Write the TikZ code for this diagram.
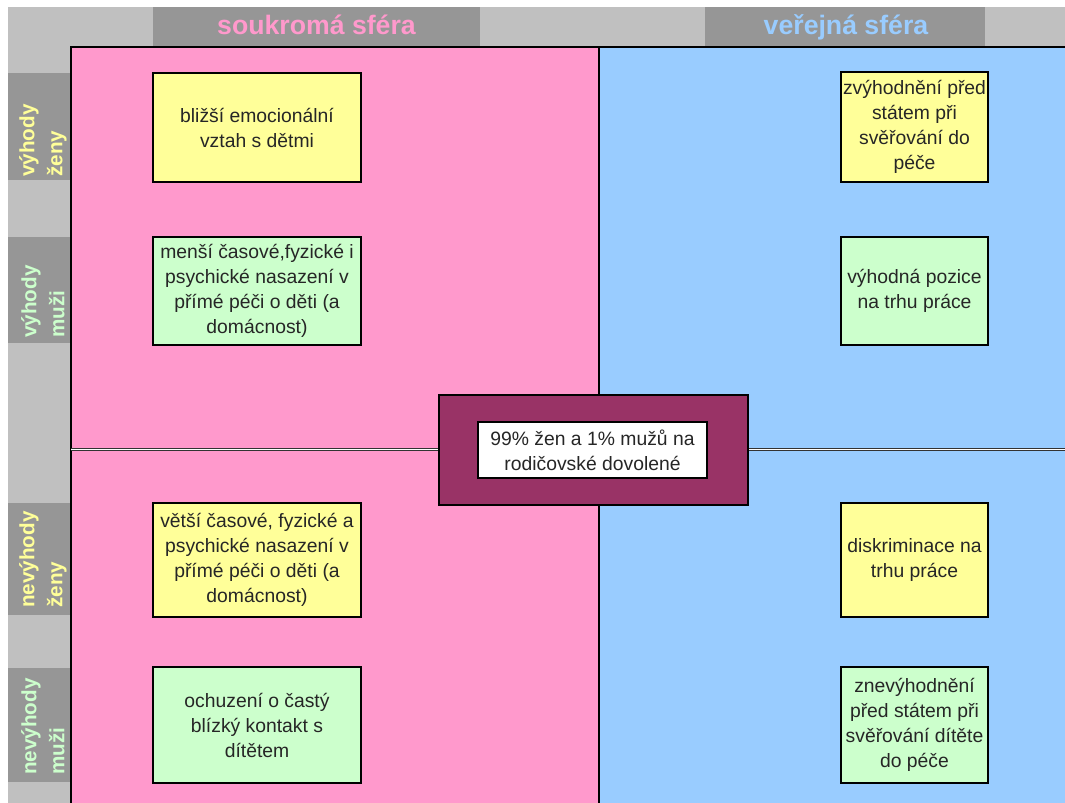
\documentclass[tikz,border=0pt]{standalone}
\usepackage{fontspec}
\setmainfont{Liberation Sans}
\usetikzlibrary{positioning}
\definecolor{rosa}{HTML}{FF99CC}
\definecolor{modra}{HTML}{99CCFF}
\definecolor{zluta}{HTML}{FFFF99}
\definecolor{zelena}{HTML}{CCFFCC}
\definecolor{fialova}{HTML}{993366}
\definecolor{seda}{HTML}{969696}
\definecolor{svetleseda}{HTML}{C0C0C0}
\newcommand{\sfera}[2]{\fontsize{20}{24}\selectfont\bfseries\textcolor{#1}{#2}}

\begin{document}
\begin{tikzpicture}[x=0.75pt,y=-0.75pt,
  box/.style={draw=black, line width=2pt, align=center, inner sep=0pt,
    text=black!85, font=\fontsize{14.5}{18.75}\selectfont},
  lbox/.style={box, minimum width=156pt},
  rbox/.style={box, minimum width=110.25pt},
  pole/.style={rotate=90, anchor=west, align=left, inner sep=0pt,
    font=\fontsize{15.5}{21}\selectfont\bfseries}]
  \useasboundingbox (0,0) rectangle (1065,803);

  % header and side column
  \fill[svetleseda] (8,7) rectangle (1065,803);
  \fill[seda] (153,7) rectangle (480,46);
  \fill[seda] (705,7) rectangle (985,46);
  \foreach \a/\b in {73/180, 237/343, 503/615, 668/782}
    \fill[seda] (8,\a) rectangle (70,\b);

  % the two spheres
  \fill[rosa] (71,47) rectangle (599,803);
  \fill[modra] (599,47) rectangle (1065,803);
  \draw[line width=2.2pt] (71,803) -- (71,47) -- (1065,47);
  \draw[line width=1.6pt] (599,47) -- (599,803);
  \draw[double=white, double distance=1.2pt, line width=0.6pt, draw=black!80]
    (71,449.5) -- (1065,449.5);

  \node[anchor=base] (soukroma) at (316.5,34) {\sfera{rosa}{soukromá sféra}};
  \node[anchor=base] (verejna) at (846,34) {\sfera{modra}{veřejná sféra}};

  \node[pole, text=zluta] (vyhzeny) at (43,177) {výhody\\ženy};
  \node[pole, text=zelena] (vyhmuzi) at (43,338) {výhody\\muži};
  \node[pole, text=zluta] (nevzeny) at (43,608) {nevýhody\\ženy};
  \node[pole, text=zelena] (nevmuzi) at (43,775) {nevýhody\\muži};

  % private sphere
  \node[lbox, fill=zluta, minimum height=81.75pt] (blizsi) at (257,127.5)
    {bližší emocionální\\vztah s dětmi};
  \node[lbox, fill=zelena, minimum height=81pt] (mensi) at (257,291)
    {menší časové,fyzické i\\psychické nasazení v\\přímé péči o děti (a\\domácnost)};
  \node[lbox, fill=zluta, minimum height=85.5pt] (vetsi) at (257,560)
    {větší časové, fyzické a\\psychické nasazení v\\přímé péči o děti (a\\domácnost)};
  \node[lbox, fill=zelena, minimum height=87pt] (ochuzeni) at (257,725)
    {ochuzení o častý\\blízký kontakt s\\dítětem};

  % public sphere
  \node[rbox, fill=zluta, minimum height=82.5pt] (zvyhodneni) at (914.5,127)
    {zvýhodnění před\\státem při\\svěřování do\\péče};
  \node[rbox, fill=zelena, minimum height=81pt] (pozice) at (914.5,291)
    {výhodná pozice\\na trhu práce};
  \node[rbox, fill=zluta, minimum height=85.5pt] (diskriminace) at (914.5,560)
    {diskriminace na\\trhu práce};
  \node[rbox, fill=zelena, minimum height=87pt] (znevyhodneni) at (914.5,725)
    {znevýhodnění\\před státem při\\svěřování dítěte\\do péče};

  % middle
  \node[draw=black, line width=2.2pt, fill=fialova, minimum width=231.75pt,
    minimum height=82.5pt] (stred) at (593.5,450) {};
  \node[box, fill=white, minimum width=171.75pt, minimum height=42pt] (dovolena)
    at (592.5,450) {99\% žen a 1\% mužů na\\rodičovské dovolené};
\end{tikzpicture}
\end{document}
